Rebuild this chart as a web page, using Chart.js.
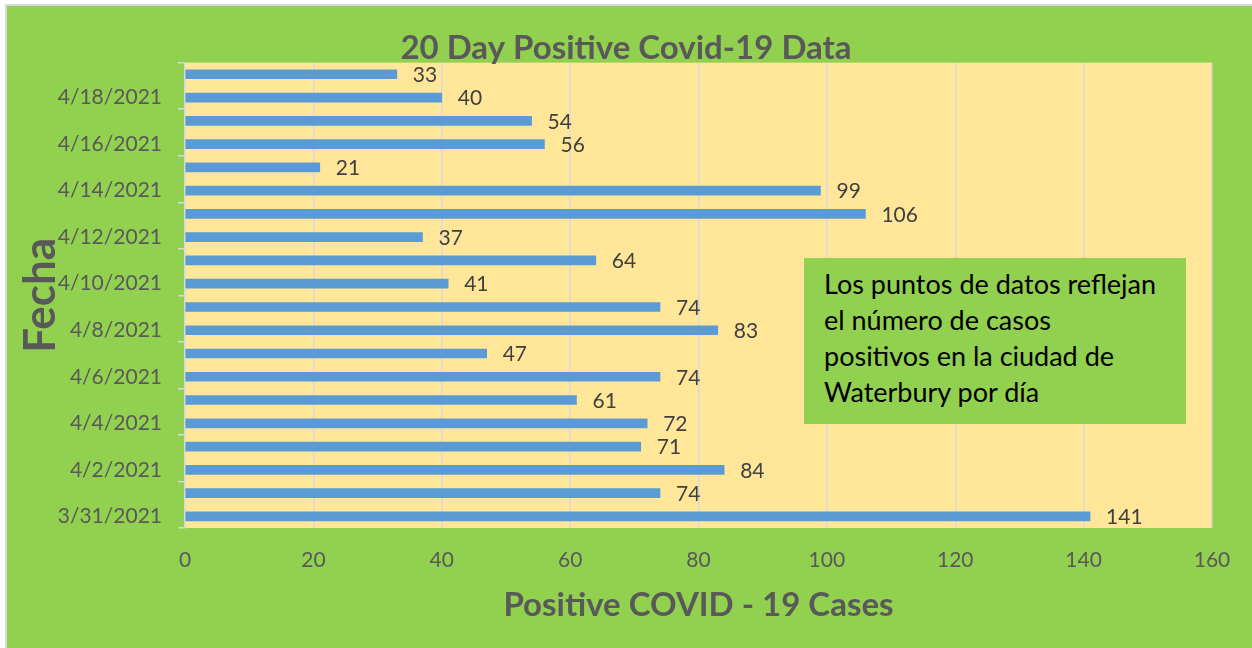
<!DOCTYPE html>
<html>
<head>
<meta charset="utf-8">
<script src="https://cdn.jsdelivr.net/npm/chart.js@4"></script>
<style>
  html, body { margin: 0; padding: 0; width: 1252px; height: 648px; overflow: hidden; background: #ffffff; }
  #frame {
    position: absolute; left: 5px; top: 4px; width: 1252px; height: 648px;
    background: #92D050; border-left: 2px solid #d9d9d9; border-top: 2px solid #d9d9d9;
  }
  #wrap { position: absolute; left: 0; top: 0; width: 1252px; height: 648px; }
  #note {
    position: absolute; left: 804px; top: 258px; width: 382px; height: 166px;
    box-sizing: border-box; padding: 8px 20px 0 20px;
    background: #92D050; color: #000000;
    font-family: Lato, "Open Sans", sans-serif; font-size: 27px; line-height: 36px;
  }
</style>
</head>
<body>
<div id="frame"></div>
<div id="wrap"><canvas id="covidChart"></canvas></div>
<div id="note">Los puntos de datos reflejan<br>el número de casos<br>positivos en la ciudad de<br>Waterbury por día</div>
<script>
document.addEventListener("DOMContentLoaded", () => {
  /* ================= DATA ================= */
  const dates = [
    "3/31/2021", "4/1/2021", "4/2/2021", "4/3/2021", "4/4/2021",
    "4/5/2021", "4/6/2021", "4/7/2021", "4/8/2021", "4/9/2021",
    "4/10/2021", "4/11/2021", "4/12/2021", "4/13/2021", "4/14/2021",
    "4/15/2021", "4/16/2021", "4/17/2021", "4/18/2021", "4/19/2021"
  ];
  const positiveCases = [141, 74, 84, 71, 72, 61, 74, 47, 83, 74, 41, 64, 37, 106, 99, 21, 56, 54, 40, 33];
  const xTicks = [0, 20, 40, 60, 80, 100, 120, 140, 160];

  const FONT = "Lato, 'Open Sans', sans-serif";
  const GREY = "#595959";
  const GRID = "#d9d9d9";

  /* ================= PLUGINS ================= */
  const plotBackground = {
    id: "plotBackground",
    beforeDraw(chart) {
      const { ctx, chartArea: a } = chart;
      ctx.save();
      ctx.fillStyle = "#FFE699";
      ctx.fillRect(a.left, a.top, a.right - a.left, a.bottom - a.top);
      ctx.restore();
    }
  };

  const valueLabels = {
    id: "valueLabels",
    afterDatasetsDraw(chart) {
      const { ctx } = chart;
      const meta = chart.getDatasetMeta(0);
      ctx.save();
      ctx.font = "21px " + FONT;
      ctx.fillStyle = "#404040";
      ctx.textAlign = "left";
      ctx.textBaseline = "middle";
      meta.data.forEach((bar, i) => {
        ctx.fillText(String(positiveCases[i]), bar.x + 16, bar.y + 1);
      });
      ctx.restore();
    }
  };

  /* ================= CHART ================= */
  const ctx = document.getElementById("covidChart");

  new Chart(ctx, {
    type: "bar",
    data: {
      labels: dates,
      datasets: [
        {
          label: "Positive COVID - 19 Cases",
          data: positiveCases,
          backgroundColor: "#5B9BD5",
          borderWidth: 0,
          barThickness: 9
        }
      ]
    },
    plugins: [plotBackground, valueLabels],
    options: {
      indexAxis: "y",
      responsive: true,
      maintainAspectRatio: false,
      animation: false,
      layout: { padding: { left: 0, right: 0, top: 0, bottom: 0 } },
      plugins: {
        legend: { display: false },
        tooltip: { enabled: false },
        title: {
          display: true,
          text: "20 Day Positive Covid-19 Data",
          color: GREY,
          font: { family: FONT, size: 33, weight: "bold", lineHeight: 1.05 },
          padding: { top: 31, bottom: -3 }
        }
      },
      scales: {
        x: {
          type: "linear",
          min: xTicks[0],
          max: xTicks[xTicks.length - 1],
          afterBuildTicks: (scale) => {
            scale.ticks = xTicks.map((v) => ({ value: v }));
          },
          afterFit: (scale) => { scale.height = 120; },
          grid: { color: GRID, lineWidth: 1.5, drawTicks: false },
          border: { display: false },
          ticks: {
            color: GREY,
            font: { family: FONT, size: 21 },
            padding: 20
          },
          title: {
            display: true,
            text: "Positive COVID - 19 Cases",
            color: GREY,
            font: { family: FONT, size: 33, weight: "bold", lineHeight: 1.2 },
            padding: 23
          }
        },
        y: {
          type: "category",
          reverse: true,
          offset: true,
          afterFit: (scale) => { scale.width = 185; },
          grid: {
            offset: true,
            drawOnChartArea: false,
            drawTicks: true,
            tickLength: 7,
            lineWidth: 1.5,
            color: (c) => (c.index === undefined || c.index % 2 === 0 ? GRID : "rgba(0,0,0,0)"),
            tickColor: (c) => (c.index === undefined || c.index % 2 === 0 ? GRID : "rgba(0,0,0,0)")
          },
          border: { display: true, color: GRID, width: 1.5 },
          ticks: {
            autoSkip: false,
            color: GREY,
            font: { family: FONT, size: 21 },
            padding: 16,
            callback: function (value, index) {
              return index % 2 === 0 ? this.getLabelForValue(value) : "";
            }
          },
          title: {
            display: true,
            text: "Fecha",
            color: GREY,
            font: { family: FONT, size: 44, weight: "bold", lineHeight: 1.2 },
            padding: 14
          }
        },
        spacer: {
          type: "linear",
          position: "right",
          display: true,
          afterFit: (scale) => { scale.width = 40; },
          grid: { display: false },
          border: { display: false },
          ticks: { display: false }
        }
      }
    }
  });
});
</script>
</body>
</html>
